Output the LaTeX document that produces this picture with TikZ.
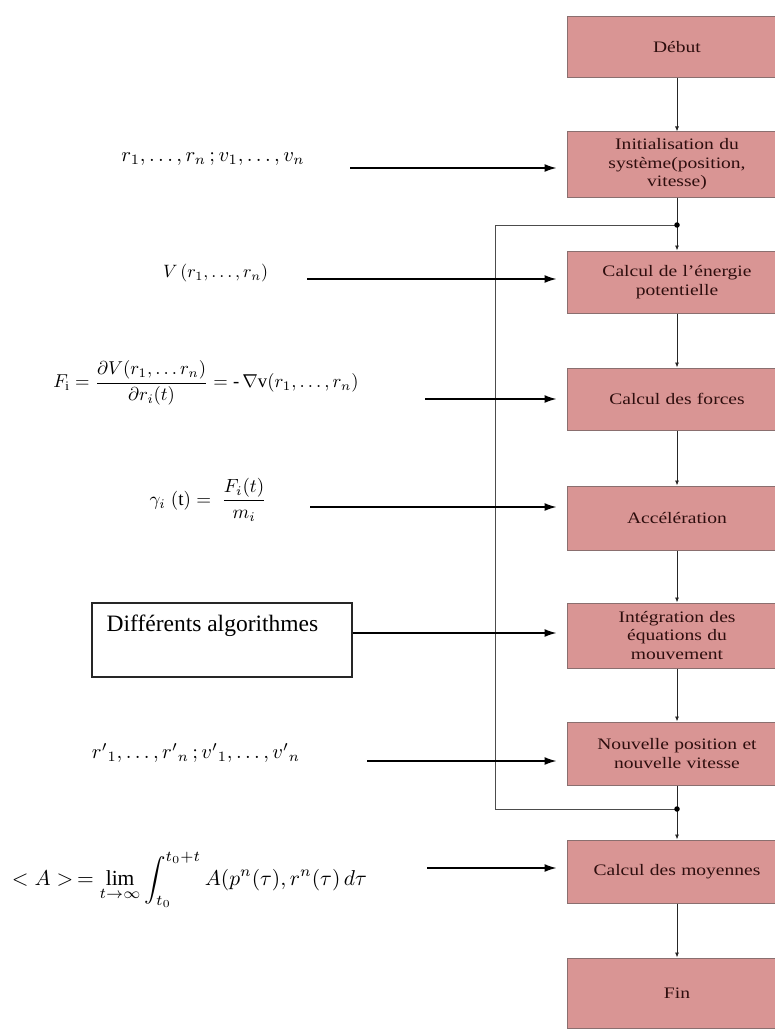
\documentclass[tikz,border=0pt]{standalone}
\usepackage{fontspec}
\usepackage{amsmath}
\usepackage{graphicx}
\setmainfont{Liberation Serif}
\newfontfamily\boxfont[FakeStretch=1.22]{Liberation Serif}
\usetikzlibrary{arrows.meta}
\definecolor{boxfill}{HTML}{D99594}
\definecolor{boxedge}{HTML}{8A6F6F}
\definecolor{boxtext}{HTML}{2E0E0E}
\tikzset{
  stepbox/.style={draw=boxedge, line width=1pt, fill=boxfill, minimum width=220pt,
    text width=190pt, align=center, font=\boxfont\fontsize{16}{18.5}\selectfont,
    text=boxtext, inner sep=0pt},
  flow/.style={-{Latex[length=5pt,width=4pt]}, line width=0.8pt, draw=black!85},
  feed/.style={line width=0.8pt, draw=black!70},
  inarrow/.style={-{Latex[length=12pt,width=8pt]}, line width=1.4pt, shorten >=10pt},
  formula/.style={inner sep=0pt},
  dot/.style={circle, fill=black, inner sep=0pt, minimum size=5.5pt},
  algobox/.style={draw=black!85, line width=1.2pt, minimum width=260pt, minimum height=74pt, inner sep=0pt},
  algotext/.style={anchor=base west, inner sep=0pt, font=\fontsize{23.5}{26}\selectfont},
}
\begin{document}
\begin{tikzpicture}[x=1pt,y=-1pt]
\useasboundingbox (0,0) rectangle (775,1030);
\clip (0,0) rectangle (775,1030);

% flow boxes
\node[stepbox, minimum height=61pt] (debut) at (677,47.5) {Début};
\node[stepbox, minimum height=65pt] (init) at (677,164.5) {Initialisation du\\ système(position,\\ vitesse)};
\node[stepbox, minimum height=62pt] (energie) at (677,282) {Calcul de l’énergie\\ potentielle};
\node[stepbox, minimum height=62pt] (forces) at (677,399) {Calcul des forces};
\node[stepbox, minimum height=64pt] (accel) at (677,518) {Accélération};
\node[stepbox, minimum height=65pt] (integ) at (677,635.5) {Intégration des\\ équations du\\ mouvement};
\node[stepbox, minimum height=63pt] (nouv) at (677,753.5) {Nouvelle position et\\ nouvelle vitesse};
\node[stepbox, minimum height=63pt] (moy) at (677,871.5) {Calcul des moyennes};
\node[stepbox, minimum height=70pt] (fin) at (677,993) {Fin};

% vertical flow
\draw[flow] (debut) -- (init);
\draw[flow] (init) -- (energie);
\draw[flow] (energie) -- (forces);
\draw[flow] (forces) -- (accel);
\draw[flow] (accel) -- (integ);
\draw[flow] (integ) -- (nouv);
\draw[flow] (nouv) -- (moy);
\draw[flow] (moy) -- (fin);

% feedback loop
\coordinate (j1) at (677,225);
\coordinate (j2) at (677,809);
\coordinate (fb) at (495,809);
\draw[feed] (j2) -- (fb) |- (j1);
\node[dot] at (j1) {};
\node[dot] at (j2) {};

% formulas
\node[formula] (f1) at (213,159) {\resizebox{183pt}{!}{$r_1,\ldots,r_n\,;v_1,\ldots,v_n$}};
\node[formula] (f2) at (215.5,273) {\resizebox{105pt}{!}{$V\,(r_1,\ldots,r_n)$}};
\node[formula] (f3) at (206,383) {\resizebox{305pt}{!}{$F_{\mathrm{i}} = \dfrac{\partial V(r_1,\ldots r_n)}{\partial r_i(t)} = \text{-}\,\nabla\mathrm{v}(r_1,\ldots,r_n)$}};
\node[formula] (f4) at (208,500) {\resizebox{117pt}{!}{$\gamma_i\;(\mathrm{t}) = \;\dfrac{F_i(t)}{m_i}$}};
\node[formula] (f6) at (196,753) {\resizebox{208pt}{!}{${r'}_1,\ldots,{r'}_n\,;{v'}_1,\ldots,{v'}_n$}};
\node[formula] (f7) at (189.5,880) {\resizebox{355pt}{!}{$<A>\,=\displaystyle\lim_{t\to\infty}\int_{t_0}^{t_0+t} A(p^n(\tau),r^n(\tau)\,d\tau$}};

% algorithms box
\node[algobox] (algo) at (222,640) {};
\node[algotext] (algot) at ([shift={(15,29)}]algo.north west) {Différents algorithmes};

% input arrows
\coordinate (a1) at (350,168);
\coordinate (a2) at (307,279);
\coordinate (a3) at (425,399);
\coordinate (a4) at (310,507);
\coordinate (a5) at (algo.east |- 0,633);
\coordinate (a6) at (367,761);
\coordinate (a7) at (427,868);
\draw[inarrow] (a1) -- (a1 -| init.west);
\draw[inarrow] (a2) -- (a2 -| energie.west);
\draw[inarrow] (a3) -- (a3 -| forces.west);
\draw[inarrow] (a4) -- (a4 -| accel.west);
\draw[inarrow] (a5) -- (a5 -| integ.west);
\draw[inarrow] (a6) -- (a6 -| nouv.west);
\draw[inarrow] (a7) -- (a7 -| moy.west);
\end{tikzpicture}
\end{document}
